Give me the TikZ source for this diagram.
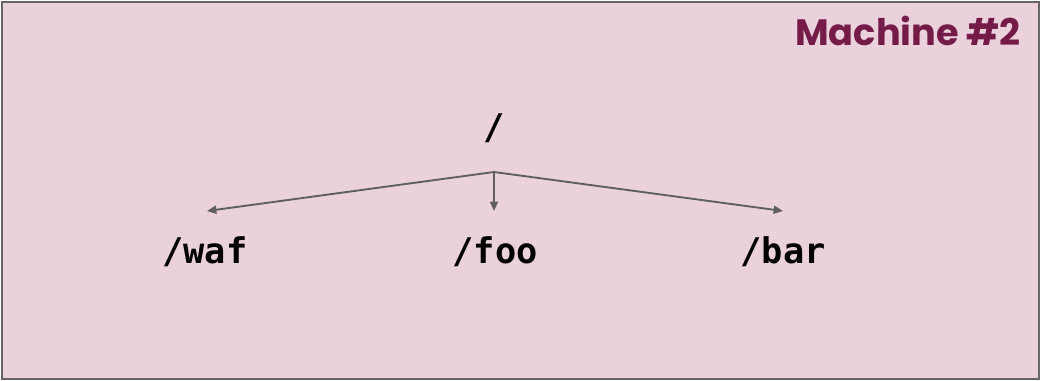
\documentclass[tikz,border=0pt]{standalone}
\usepackage{fontspec}
\newfontfamily\titlefont{Poppins}[UprightFont=* SemiBold, BoldFont=* Bold]
\setmonofont{DejaVu Sans Mono}
\usetikzlibrary{arrows.meta}
\definecolor{bgpink}{HTML}{EAD1DC}
\definecolor{framegray}{HTML}{666666}
\definecolor{titlecol}{HTML}{741B47}
\definecolor{arrgray}{HTML}{5F5F5F}
\tikzset{
  pathlabel/.style={font=\ttfamily\bfseries\fontsize{26.5}{30}\selectfont, inner sep=0pt, text=black},
  arr/.style={draw=arrgray, line width=1.4pt, -{Triangle[length=7pt,width=6pt]}},
}
\begin{document}
\begin{tikzpicture}[x=0.75pt,y=-0.75pt]
\useasboundingbox (0,0) rectangle (1041,381);
\draw[fill=bgpink, draw=framegray, line width=1.5pt] (2,2) rectangle (1039,379);
\node[anchor=east, inner sep=0pt, text=titlecol, font=\titlefont\bfseries\fontsize{27.5}{32}\selectfont] (title) at (1021,31) {Machine \#2};
\node[pathlabel] (root) at (494,128) {/};
\node[pathlabel] (waf) at (205,252) {/waf};
\node[pathlabel] (foo) at (495,252) {/foo};
\node[pathlabel] (bar) at (783,252) {/bar};
\coordinate (hub) at (494,172);
\coordinate (tw) at (207,211);
\coordinate (tf) at (494,211);
\coordinate (tb) at (783,211);
\draw[arr] (hub) -- (tw);
\draw[arr] (hub) -- (tf);
\draw[arr] (hub) -- (tb);
\end{tikzpicture}
\end{document}
